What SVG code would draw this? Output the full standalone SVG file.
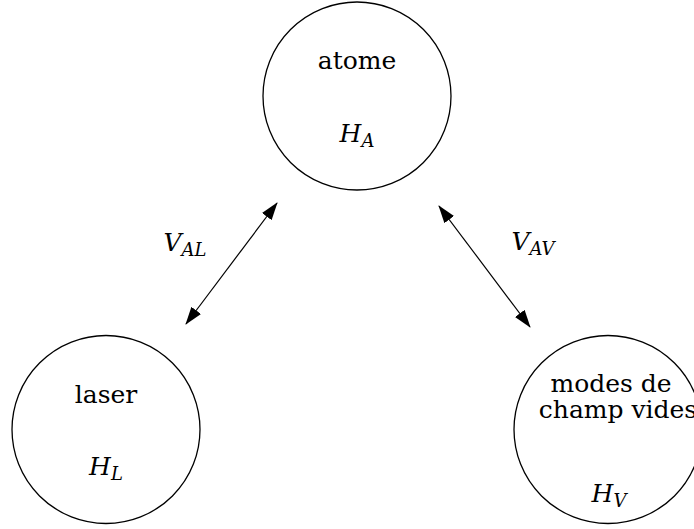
<svg xmlns="http://www.w3.org/2000/svg" width="694" height="529" viewBox="0 0 694 529">
<style>
.node{fill:#fff;stroke:#000;stroke-width:1.3}
.t{font-family:"DejaVu Serif","Liberation Serif",serif;font-size:25px;fill:#000;text-anchor:middle}
.m{font-style:italic}
.s{font-size:18px}
.edge{stroke:#000;stroke-width:1.2;fill:none}
</style>
<defs>
<marker id="ah" viewBox="0 0 18 12" refX="17" refY="6" markerWidth="18" markerHeight="12" markerUnits="userSpaceOnUse" orient="auto-start-reverse">
<path d="M0,0 L18,6 L0,12 Z" fill="#000"/>
</marker>
</defs>
<g id="atome">
<circle class="node" cx="357" cy="96" r="94"/>
<text class="t" x="357" y="69">atome</text>
<text class="t m" x="357" y="142">H<tspan class="s" dy="5">A</tspan></text>
</g>
<g id="laser">
<circle class="node" cx="106" cy="429.5" r="94"/>
<text class="t" x="106" y="403">laser</text>
<text class="t m" x="106" y="475">H<tspan class="s" dy="5">L</tspan></text>
</g>
<g id="modes">
<circle class="node" cx="608" cy="429.5" r="94"/>
<text class="t" x="611" y="392">modes de</text>
<text class="t" x="618" y="418">champ vides</text>
<text class="t m" x="609" y="502">H<tspan class="s" dy="5">V</tspan></text>
</g>
<g id="connectors">
<line class="edge" x1="186" y1="324" x2="277" y2="203" marker-start="url(#ah)" marker-end="url(#ah)"/>
<line class="edge" x1="439" y1="206" x2="530" y2="327" marker-start="url(#ah)" marker-end="url(#ah)"/>
<text class="t m" x="185" y="251">V<tspan class="s" dy="5">AL</tspan></text>
<text class="t m" x="533" y="250">V<tspan class="s" dy="5">AV</tspan></text>
</g>
</svg>
